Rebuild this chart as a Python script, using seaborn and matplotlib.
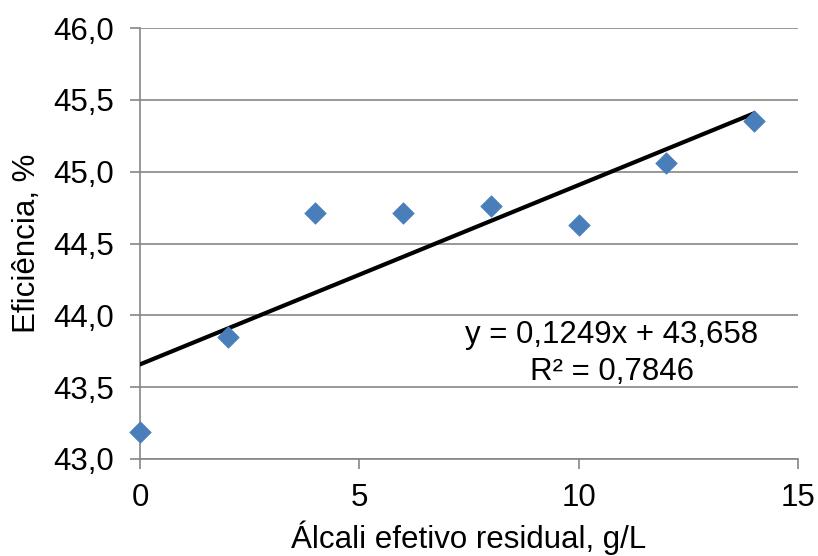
import numpy as np
import pandas as pd
import matplotlib
matplotlib.use('Agg')
import matplotlib.pyplot as plt
import seaborn as sns
from matplotlib.ticker import FuncFormatter

# dados
alcali = [0, 2, 4, 6, 8, 10, 12, 14]
eficiencia = [43.19, 43.85, 44.71, 44.71, 44.76, 44.63, 45.06, 45.35]
eq_texto = 'y = 0,1249x + 43,658'
r2_texto = 'R² = 0,7846'

def main():
    df = pd.DataFrame({'x': alcali, 'y': eficiencia})

    sns.set_style('white')
    plt.rcParams['font.family'] = ['Liberation Sans', 'DejaVu Sans']
    plt.rcParams['text.color'] = 'black'
    plt.rcParams['axes.labelcolor'] = 'black'
    fs = 22.5

    fig = plt.figure(figsize=(8.18, 5.56), dpi=100)
    ax = fig.add_axes([0.1711, 0.1745, 0.8045, 0.7751])

    # linha de tendência linear
    coef = np.polyfit(df['x'], df['y'], 1)
    xs = np.array([df['x'].min(), df['x'].max()])
    ax.plot(xs, np.polyval(coef, xs), color='black', linewidth=3, zorder=3)

    sns.scatterplot(data=df, x='x', y='y', ax=ax, marker='D', s=120,
                    color='#4A7EBB', edgecolor='#4A7EBB', linewidth=0.5, zorder=4,
                    clip_on=False)

    ax.set_xlim(0, 15)
    ax.set_ylim(43.0, 46.0)
    ax.set_xticks([0, 5, 10, 15])
    ax.set_yticks(np.arange(43.0, 46.01, 0.5))
    ax.yaxis.set_major_formatter(FuncFormatter(lambda v, p: f'{v:.1f}'.replace('.', ',')))

    ax.grid(axis='y', color='#868686', linewidth=1.2)
    ax.set_axisbelow(True)
    for s in ['top', 'right']:
        ax.spines[s].set_visible(False)
    for s in ['left', 'bottom']:
        ax.spines[s].set_color('#868686')
        ax.spines[s].set_linewidth(1.2)

    ax.tick_params(axis='both', which='major', labelsize=fs, colors='#868686',
                   labelcolor='black', length=7, width=1.2, direction='out',
                   left=True, bottom=True)
    ax.tick_params(axis='y', pad=12)
    ax.tick_params(axis='x', pad=10)

    ax.set_xlabel('Álcali efetivo residual, g/L', fontsize=fs, labelpad=6, color='black')
    ax.set_ylabel('Eficiência, %', fontsize=fs, labelpad=8, color='black')

    ax.text(0.717, 0.288, eq_texto, transform=ax.transAxes, ha='center', va='center',
            fontsize=fs, color='black')
    ax.text(0.717, 0.202, r2_texto, transform=ax.transAxes, ha='center', va='center',
            fontsize=fs, color='black')

    plt.savefig('out.png', dpi=100)

if __name__ == "__main__":
    main()
